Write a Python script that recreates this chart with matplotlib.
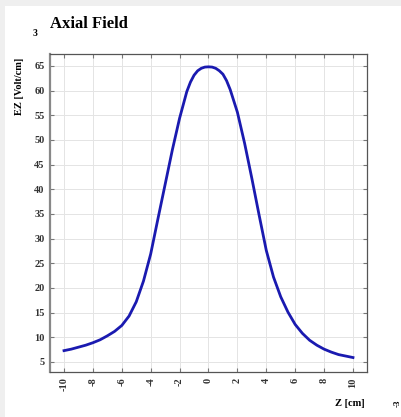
import matplotlib
matplotlib.use("Agg")
import matplotlib.pyplot as plt
from matplotlib.patches import Rectangle

plt.rcParams['font.family'] = ['Liberation Serif', 'DejaVu Serif']
plt.rcParams['axes.unicode_minus'] = False

# axial field profile
z_cm = [-10, -9.5, -9, -8.5, -8, -7.5, -7, -6.5, -6, -5.5, -5, -4.5, -4, -3.5,
        -3, -2.5, -2, -1.5, -1.25, -1, -0.75, -0.5, -0.25, 0, 0.25, 0.5, 0.75,
        1, 1.25, 1.5, 2, 2.5, 3, 3.5, 4, 4.5, 5, 5.5, 6, 6.5, 7, 7.5, 8, 8.5,
        9, 9.5, 10]
ez = [7.3, 7.6, 8.0, 8.4, 8.9, 9.5, 10.3, 11.2, 12.4, 14.3, 17.2, 21.4, 26.9,
      34.0, 41.0, 48.0, 54.4, 59.8, 61.7, 63.1, 64.0, 64.5, 64.75, 64.8,
      64.75, 64.5, 64.0, 63.3, 62.0, 60.2, 55.6, 49.3, 42.2, 34.8, 27.6, 22.2,
      18.2, 15.1, 12.6, 10.8, 9.4, 8.4, 7.6, 7.0, 6.5, 6.2, 5.9]

x_ticks = list(range(-10, 11, 2))
y_ticks = list(range(5, 66, 5))

fig = plt.figure(figsize=(4.02, 4.17), dpi=100)
fig.patch.set_facecolor('#efefef')
fig.patches.append(Rectangle((5 / 402, 0), 1, 1 - 6 / 417, transform=fig.transFigure,
                             facecolor='white', edgecolor='none', zorder=-1))

ax = fig.add_axes([50 / 402, 1 - 372 / 417, 317 / 402, 318 / 417])
ax.plot(z_cm, ez, color='#1a1ab0', lw=2, solid_joinstyle='round')

ax.set_xlim(-10.97, 10.97)
ax.set_ylim(2.97, 67.4)
ax.set_xticks(x_ticks)
ax.set_yticks(y_ticks)
ax.set_xticklabels([str(t) for t in x_ticks], rotation=90, fontsize=7.5,
                   fontweight='bold', color='#333333')
ax.set_yticklabels([str(t) for t in y_ticks], fontsize=7.5, fontweight='bold',
                   color='#333333')
ax.tick_params(direction='in', top=True, right=True, length=3, width=0.8,
               color='#777777', pad=4)
ax.grid(True, color='#e4e4e4', lw=0.7)
for side in ['top', 'right', 'bottom']:
    ax.spines[side].set_color('#555555')
    ax.spines[side].set_linewidth(0.9)
ax.spines['left'].set_color('#888888')
ax.spines['left'].set_linewidth(1.6)

fig.text(50 / 402, 1 - 24 / 417, 'Axial Field', fontsize=12, fontweight='bold',
         ha='left', va='center')
fig.text(35 / 402, 1 - 33 / 417, '3', fontsize=7, fontweight='bold',
         ha='center', va='center')
fig.text(20 / 402, 1 - 86 / 417, 'EZ [Volt/cm]', fontsize=7.5, fontweight='bold',
         rotation=90, ha='center', va='center')
fig.text(350 / 402, 1 - 403 / 417, 'Z [cm]', fontsize=7.5, fontweight='bold',
         ha='center', va='center')
fig.text(398 / 402, 1 - 403 / 417, '-3', fontsize=6.5, fontweight='bold',
         rotation=90, ha='center', va='center')

plt.savefig('out.png', dpi=100)
